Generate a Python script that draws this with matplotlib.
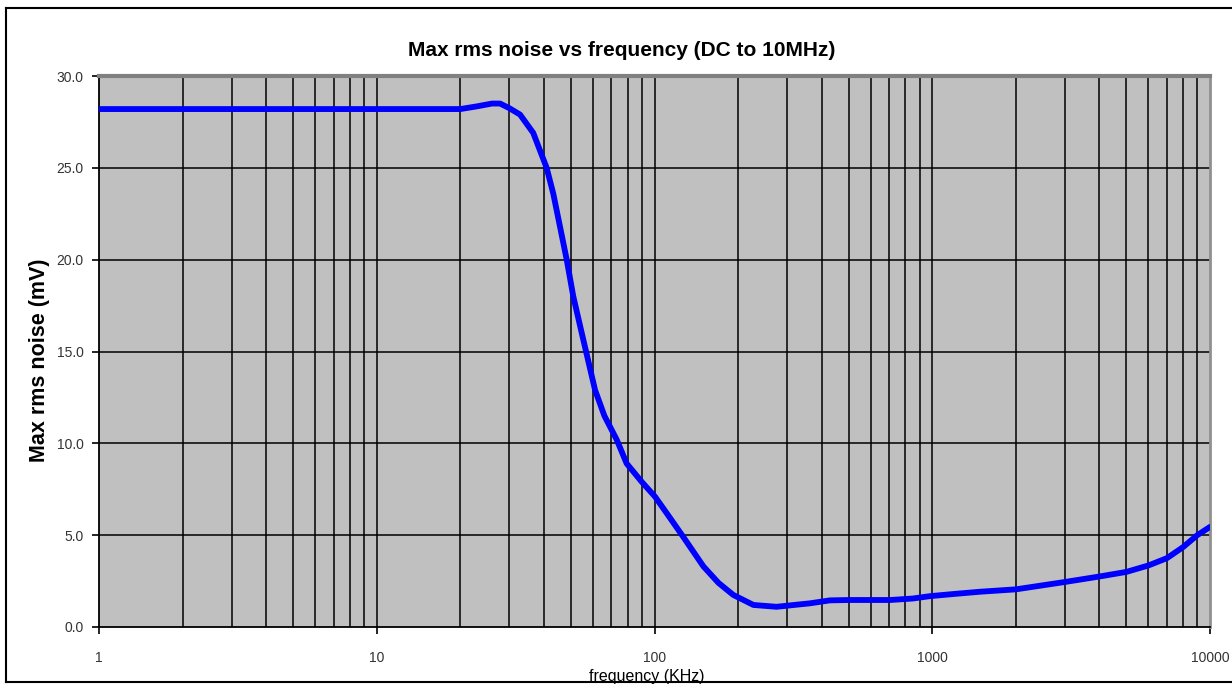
import matplotlib.pyplot as plt
from matplotlib.lines import Line2D
from matplotlib.ticker import FixedLocator, NullLocator, FixedFormatter

plt.rcParams['font.family'] = ['Liberation Sans', 'DejaVu Sans']

# frequency in KHz, noise in mV
freq = [1, 2, 5, 10, 15, 20, 23, 26, 27.8, 30, 32.8, 36.6, 40.9, 43.2, 48.3,
        51.0, 55.5, 61.1, 66, 73.1, 79.4, 90, 100.4, 113, 127, 150, 170, 192,
        227, 275, 363, 428, 500, 705, 850, 982, 1200, 1486, 2000, 3000, 4000,
        5000, 6000, 7000, 8000, 9000, 10000]
noise = [28.2, 28.2, 28.2, 28.2, 28.2, 28.2, 28.35, 28.5, 28.5, 28.25, 27.9,
         26.9, 25.0, 23.6, 20.0, 18.0, 15.6, 12.9, 11.5, 10.2, 8.9, 7.9, 7.1,
         6.0, 4.9, 3.3, 2.4, 1.75, 1.2, 1.1, 1.29, 1.45, 1.47, 1.47, 1.55,
         1.68, 1.8, 1.92, 2.05, 2.45, 2.75, 3.0, 3.35, 3.75, 4.35, 5.0, 5.45]

x_ticks = [1, 10, 100, 1000, 10000]
y_ticks = [0, 5, 10, 15, 20, 25, 30]

fig = plt.figure(figsize=(12.32, 6.84), dpi=100)
ax = fig.add_axes([99 / 1232, 1 - 627 / 684, (1210 - 99) / 1232, (627 - 76) / 684])
ax.set_facecolor('#c0c0c0')

ax.plot(freq, noise, color='#0000ff', linewidth=4.2, solid_capstyle='round',
        solid_joinstyle='round', zorder=3)

ax.set_xscale('log')
ax.set_xlim(1, 10000)
ax.set_ylim(0, 30)

# grid: every decade step on x, every 5 mV on y
minor = [m * d for d in [1, 10, 100, 1000] for m in range(2, 10)]
for v in minor + x_ticks[1:-1]:
    ax.axvline(v, color='black', linewidth=1.1, zorder=1)
for v in y_ticks[1:-1]:
    ax.axhline(v, color='black', linewidth=1.1, zorder=1)

ax.xaxis.set_major_locator(FixedLocator(x_ticks))
ax.xaxis.set_major_formatter(FixedFormatter([str(v) for v in x_ticks]))
ax.xaxis.set_minor_locator(NullLocator())
ax.set_yticks(y_ticks)
ax.set_yticklabels(['%.1f' % v for v in y_ticks])
ax.tick_params(axis='x', direction='out', length=5, width=1.2, pad=12,
               labelsize=10, colors='black')
ax.tick_params(axis='y', direction='out', length=5, width=1.2, pad=6,
               labelsize=10, colors='black')
for lab in ax.get_xticklabels() + ax.get_yticklabels():
    lab.set_color('#333333')

ax.spines['left'].set_color('black')
ax.spines['left'].set_linewidth(1.3)
ax.spines['bottom'].set_color('black')
ax.spines['bottom'].set_linewidth(1.3)
ax.spines['top'].set_color('#808080')
ax.spines['top'].set_linewidth(3)
ax.spines['right'].set_color('#909090')
ax.spines['right'].set_linewidth(2)

fig.text(622 / 1232, 1 - 50 / 684, 'Max rms noise vs frequency (DC to 10MHz)',
         ha='center', va='center', fontsize=15, fontweight='bold')
fig.text(40 / 1232, 1 - 360 / 684, 'Max rms noise (mV)', rotation=90,
         ha='center', va='center', fontsize=15.5, fontweight='bold')
fig.text(647 / 1232, 1 - 677 / 684, 'frequency (KHz)', ha='center', va='center',
         fontsize=11.5)

# outer frame of the chart
fig.add_artist(Line2D([6 / 1232, 6 / 1232], [1 - 8 / 684, 1 - 682 / 684],
                      transform=fig.transFigure, color='black', linewidth=1.5))
fig.add_artist(Line2D([6 / 1232, 1.0], [1 - 8 / 684, 1 - 8 / 684],
                      transform=fig.transFigure, color='black', linewidth=1.5))
fig.add_artist(Line2D([6 / 1232, 1.0], [1 - 682 / 684, 1 - 682 / 684],
                      transform=fig.transFigure, color='black', linewidth=1.5))

fig.savefig('out.png', dpi=100)
